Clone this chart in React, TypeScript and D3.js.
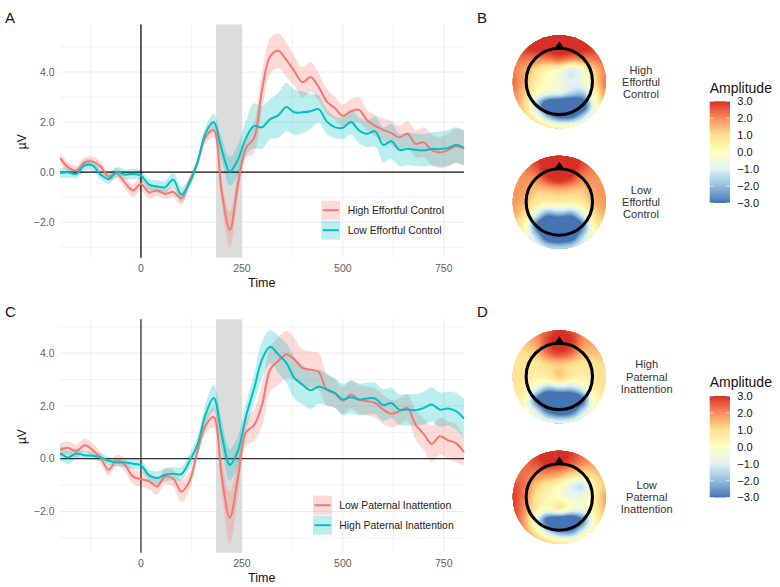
import React, { useMemo } from "react";
import * as d3 from "d3";

// ---------- ERP data (20 ms sampling) ----------
const times: number[] = d3.range(-200, 801, 20);
const xTicks = [0, 250, 500, 750];
const xMinor = [-125, 125, 375, 625];
const yTicks = [-2, 0, 2, 4];
const yMinorA = [-3, -1, 1, 3, 5];
const yMinorC = [-3, -1, 1, 3, 5];
const windowMs = [186, 250];

const highEC = [
  0.56, 0.19, 0.07, 0.38, 0.42, 0.22, -0.17, -0.05, -0.42, -0.73,
  -0.47, -0.81, -0.73, -0.87, -0.79, -1.05, -0.37, 0.36, 1.4, 1.68,
  -0.8, -2.3, -0.5, 0.96, 1.36, 3.29, 4.63, 4.85, 4.49, 4.03,
  3.59, 3.8, 3.4, 2.83, 2.56, 2.25, 2.43, 2.49, 2.07, 1.85,
  1.69, 1.56, 1.39, 1.53, 1.13, 1.19, 0.89, 0.78, 0.88, 1.03,
  0.96,
];
const highECse = [
  0.2, 0.2, 0.18, 0.2, 0.2, 0.18, 0.18, 0.2, 0.22, 0.25,
  0.28, 0.25, 0.22, 0.2, 0.22, 0.25, 0.2, 0.15, 0.25, 0.3,
  0.45, 0.72, 0.55, 0.4, 0.6, 0.75, 0.72, 0.7, 0.68, 0.6,
  0.6, 0.6, 0.55, 0.5, 0.45, 0.45, 0.5, 0.5, 0.42, 0.42,
  0.45, 0.48, 0.45, 0.5, 0.55, 0.6, 0.62, 0.62, 0.65, 0.7,
  0.7,
];
const lowEC = [
  -0.04, -0.01, -0.07, 0.27, 0.27, -0.1, -0.27, 0, -0.1, -0.07,
  -0.13, -0.5, -0.57, -0.6, -0.3, -0.9, -0.44, 0.4, 1.56, 2.0,
  0.9, 0.03, 0.49, 1.36, 1.85, 1.79, 2.12, 2.27, 2.6, 2.39,
  2.39, 2.43, 2.52, 2.03, 1.8, 1.77, 2.0, 1.67, 1.53, 1.63,
  1.09, 1.23, 0.89, 0.93, 0.89, 0.87, 0.92, 0.92, 0.96, 1.09,
  0.96,
];
const lowECse = [
  0.2, 0.2, 0.18, 0.22, 0.22, 0.18, 0.2, 0.2, 0.2, 0.2,
  0.2, 0.22, 0.25, 0.25, 0.28, 0.3, 0.2, 0.15, 0.25, 0.32,
  0.45, 0.57, 0.6, 0.7, 0.9, 0.85, 0.8, 0.9, 0.97, 0.9,
  0.83, 0.7, 0.55, 0.5, 0.43, 0.45, 0.5, 0.52, 0.52, 0.6,
  0.7, 0.7, 0.65, 0.65, 0.65, 0.65, 0.67, 0.7, 0.72, 0.7,
  0.7,
];
const lowPI = [
  0.34, 0.41, 0.28, 0.51, 0.34, 0.03, -0.42, -0.06, -0.23, -0.67,
  -0.77, -0.86, -1.05, -0.67, -0.76, -1.24, -0.86, 0.28, 1.25, 1.58,
  -0.67, -2.23, -0.73, 1.0, 1.27, 2.05, 3.38, 3.7, 3.95, 3.76,
  3.44, 3.37, 3.29, 2.62, 2.47, 2.2, 2.43, 2.24, 2.18, 2.11,
  1.86, 1.7, 1.8, 1.92, 1.29, 0.94, 0.56, 0.85, 0.7, 0.59,
  0.25,
];
const lowPIse = [
  0.25, 0.25, 0.25, 0.25, 0.25, 0.22, 0.22, 0.22, 0.25, 0.28,
  0.3, 0.3, 0.3, 0.3, 0.32, 0.42, 0.35, 0.2, 0.3, 0.4,
  0.6, 0.98, 0.75, 0.5, 0.6, 0.8, 0.85, 0.9, 0.9, 0.8,
  0.7, 0.7, 0.7, 0.6, 0.55, 0.5, 0.55, 0.55, 0.55, 0.55,
  0.55, 0.52, 0.5, 0.5, 0.55, 0.6, 0.68, 0.7, 0.7, 0.72,
  0.5,
];
const highPI = [
  0.22, 0.05, 0.2, 0.13, 0.11, 0.06, -0.08, -0.14, -0.14, -0.19,
  -0.25, -0.63, -0.73, -0.61, -0.57, -0.58, -0.1, 0.53, 1.67, 2.3,
  0.91, -0.23, 0.3, 1.6, 2.65, 3.76, 4.24, 3.95, 3.63, 3.06,
  2.81, 2.59, 2.73, 2.62, 2.49, 2.24, 2.33, 2.24, 2.28, 2.28,
  2.03, 2.11, 1.86, 1.86, 1.84, 1.92, 2.05, 1.86, 1.9, 1.8,
  1.52,
];
const highPIse = [
  0.3, 0.25, 0.2, 0.15, 0.15, 0.15, 0.15, 0.15, 0.18, 0.2,
  0.2, 0.22, 0.25, 0.25, 0.25, 0.25, 0.28, 0.3, 0.42, 0.5,
  0.55, 0.6, 0.55, 0.5, 0.55, 0.7, 0.63, 0.7, 0.75, 0.78,
  0.75, 0.7, 0.65, 0.6, 0.55, 0.6, 0.62, 0.6, 0.6, 0.6,
  0.6, 0.58, 0.58, 0.6, 0.6, 0.62, 0.65, 0.65, 0.65, 0.7,
  0.75,
];

// ---------- Topographic amplitudes (9x9 samples across each head) ----------
const topoHighEC = [
  [2.6, 3, 3.2, 3.5, 3.8, 3.5, 3.2, 3, 2.6],
  [2.4, 3, 3.5, 3.5, 3.5, 3.5, 3.5, 3, 2.6],
  [2.2, 2.4, 2.1, 2.3, 2.9, 2.5, 2.2, 2.4, 2.6],
  [2.2, 1.7, 0.9, 0, -0.2, -1.8, -0.6, 1.2, 2.2],
  [2.6, 1.6, 0.5, -0.1, -0.3, -1.0, -0.4, 0.9, 2.6],
  [2.2, 1.3, 0.1, -0.3, 0, -1, -1.8, 0.3, 2.2],
  [2, 1.3, -2, -5, -6, -6, -5, -0.4, 1.6],
  [1.8, 1.3, 0.3, -2, -3.5, -3.5, -1.5, 0.4, 1.2],
  [1.6, 1.5, 1.4, 1.2, 1, 1, 1.2, 1.3, 1.4],
];
const topoLowEC = [
  [2.4, 2.6, 3, 3.5, 3.5, 3.5, 3, 2.6, 2.4],
  [2, 2.2, 2.6, 3.5, 3.5, 3.5, 2.6, 2.2, 2],
  [2, 2, 1.9, 3, 3.5, 3, 1.9, 2, 2],
  [2, 1.9, 1.2, 1.2, 1.4, 1.2, 1.2, 1.9, 2],
  [2, 1.6, 0.8, 0.7, 0.8, 0.7, 0.8, 1.6, 2],
  [1.8, 1.1, -0.6, -2.6, -1.6, -2.6, -0.6, 1.1, 1.8],
  [1.2, 0.6, -3.5, -6, -6, -6, -3.5, 0.6, 1.2],
  [0.5, 0.2, -1.2, -4, -4.5, -4, -1.2, 0.2, 0.5],
  [0.2, 0.1, -0.2, -0.8, -1, -0.8, -0.2, 0.1, 0.2],
];
const topoHighPI = [
  [1.6, 1.8, 2, 2.5, 3, 2.8, 2, 1.8, 1.6],
  [1.2, 1.4, 1.8, 3, 3.6, 3.2, 2, 1.8, 1.6],
  [0.9, 1, 1.2, 2.6, 3, 2.6, 1.3, 1.4, 1.4],
  [0.9, 0.8, 0.7, 0.8, 1, 0.8, 0.7, 0.9, 1.1],
  [1, 0.8, 0.6, 0.9, 1.9, 0.9, 0.6, 0.8, 1],
  [0.9, 0.7, -0.5, -2, -1.2, -1.6, -0.5, 0.7, 0.9],
  [0.7, 0.5, -3.5, -6, -6, -6, -4, 0.3, 0.6],
  [0.6, 0.4, -0.6, -3, -4, -3.5, -1, 0.3, 0.5],
  [0.5, 0.4, 0.3, 0, -0.2, -0.1, 0.2, 0.3, 0.4],
];
const topoLowPI = [
  [2, 2.3, 2.8, 3.5, 3.8, 3, 2.4, 2, 2],
  [2, 2.4, 2.8, 3.3, 3.2, 2.8, 2.2, 1.9, 1.8],
  [2.4, 2.4, 2, 2, 1.8, 1.2, 0.9, 1.2, 1.6],
  [2.8, 2.4, 1.2, 0.6, 0.1, -1.2, -2, 0.5, 1.4],
  [3, 2.2, 0.8, 0.2, -0.3, -0.6, -0.5, 0.5, 2],
  [3, 2, 0.6, 0.2, 2, 0.3, -0.2, 0.4, 1.8],
  [3, 1.8, -1, -4.5, -5.5, -5.5, -3.5, 0.2, 1.5],
  [3, 2, 0.8, -1.2, -2.5, -2.8, -0.6, 0.6, 1.4],
  [2.5, 2.4, 2, 1.6, 1.2, 1.2, 1.4, 1.6, 1.8],
];

const ampTicks = [3, 2, 1, 0, -1, -2, -3];
const ampColors = ["#d73027", "#fc8d59", "#fee090", "#ffffbf", "#e0f3f8", "#91bfdb", "#4575b4"];
const ampLevels = d3.range(-3, 3.001, 0.1);

const RED = "#F8766D";
const TEAL = "#00BFC4";
const FONT = "'Liberation Sans', Arial, sans-serif";
const fmt = (v: number) => (v < 0 ? "\u2212" : "") + Math.abs(v).toFixed(1);

const ampColor = d3.scaleLinear<string>().domain(ampTicks).range(ampColors).clamp(true);

function ErpPanel({ yDomain, yRange, yMinor, series, legend, legendX, legendTextX, zeroColor }: any) {
  const x = d3.scaleLinear().domain([-200, 800]).range([60.2, 464]);
  const y = d3.scaleLinear().domain(yDomain).range(yRange);
  const top = yRange[0];
  const bottom = yRange[1];
  const line = d3.line<number>().x((_, i) => x(times[i])).y((d) => y(d)).curve(d3.curveCatmullRom.alpha(0.5));
  const band = (s: any) =>
    d3.area<number>().x((_, i) => x(times[i])).y0((d, i) => y(d - s.se[i])).y1((d, i) => y(d + s.se[i])).curve(d3.curveCatmullRom.alpha(0.5))(s.values) as string;
  const grid = "#ebebeb";
  return (
    <g fontFamily={FONT}>
      {xMinor.map((t) => <line key={t} x1={x(t)} x2={x(t)} y1={top} y2={bottom} stroke={grid} strokeWidth={0.7} />)}
      {xTicks.map((t) => <line key={t} x1={x(t)} x2={x(t)} y1={top} y2={bottom} stroke={grid} strokeWidth={1} />)}
      {yMinor.map((t: number) => <line key={t} x1={60.2} x2={464} y1={y(t)} y2={y(t)} stroke={grid} strokeWidth={0.7} />)}
      {yTicks.map((t) => <line key={t} x1={60.2} x2={464} y1={y(t)} y2={y(t)} stroke={grid} strokeWidth={1} />)}
      <rect x={x(windowMs[0])} width={x(windowMs[1]) - x(windowMs[0])} y={top} height={bottom - top} fill="#dcdcdc" />
      {series.map((s: any) => <path key={s.name + "b"} d={band(s)} fill={s.color} fillOpacity={0.27} />)}
      <line x1={60.2} x2={464} y1={y(0)} y2={y(0)} stroke={zeroColor} strokeWidth={1.3} />
      <line x1={x(0)} x2={x(0)} y1={top} y2={bottom} stroke={zeroColor} strokeWidth={1.3} />
      {series.map((s: any) => <path key={s.name} d={line(s.values) as string} fill="none" stroke={s.color} strokeWidth={2} />)}
      {yTicks.map((t) => (
        <text key={t} x={54.5} y={y(t)} dy="0.36em" textAnchor="end" fontSize={10.5} fill="#5f5f5f">{fmt(t)}</text>
      ))}
      {xTicks.map((t) => (
        <text key={t} x={x(t)} y={bottom + 11} dy="0.36em" textAnchor="middle" fontSize={10.5} fill="#5f5f5f">{t}</text>
      ))}
      <text x={261.7} y={bottom + 25} dy="0.36em" textAnchor="middle" fontSize={12.5} fill="#111">Time</text>
      <text transform={`translate(21.7,${(top + bottom) / 2 + 0.6}) rotate(-90)`} dy="0.36em" textAnchor="middle" fontSize={12} fill="#111">{"\u00b5V"}</text>
      {legend.map((s: any, i: number) => {
        const ky = bottom - 57 + i * 20;
        return (
          <g key={s.name}>
            <rect x={legendX} y={ky} width={19} height={19} fill={s.color} fillOpacity={0.27} />
            <line x1={legendX + 1.5} x2={legendX + 17.5} y1={ky + 9.5} y2={ky + 9.5} stroke={s.color} strokeWidth={2} />
            <text x={legendTextX} y={ky + 9.5} dy="0.36em" fontSize={10.4} fill="#222">{s.name}</text>
          </g>
        );
      })}
    </g>
  );
}

function Topo({ id, cx, cy, matrix }: { id: string; cx: number; cy: number; matrix: number[][] }) {
  const R = 46.5;
  const paths = useMemo(() => {
    const n = 90;
    const cells: { u: number; v: number; a: number }[] = [];
    matrix.forEach((row, j) => row.forEach((a, i) => cells.push({ u: -1 + i * 0.25, v: -1 + j * 0.25, a })));
    const field = new Array(n * n);
    const s2 = 2 * 0.13 * 0.13;
    for (let gy = 0; gy < n; gy++) {
      for (let gx = 0; gx < n; gx++) {
        const u = -1 + (2 * gx) / (n - 1);
        const v = -1 + (2 * gy) / (n - 1);
        let sw = 0;
        let sv = 0;
        for (const c of cells) {
          const w = Math.exp(-((u - c.u) ** 2 + (v - c.v) ** 2) / s2);
          sw += w;
          sv += w * c.a;
        }
        field[gy * n + gx] = sv / sw;
      }
    }
    const contours = d3.contours().size([n, n]).thresholds(ampLevels)(field);
    const k = (2 * R) / (n - 1);
    const geo = d3.geoPath(d3.geoIdentity().scale(k).translate([cx - R - k * 0.5, cy - R - k * 0.5]) as any);
    return contours.map((c) => ({ v: c.value, d: geo(c as any) as string }));
  }, [matrix, cx, cy]);
  const ringR = 33.2;
  const ringY = cy - 0.3;
  const noseTop = ringY - ringR - 7;
  return (
    <g>
      <clipPath id={id}><circle cx={cx} cy={cy} r={R} /></clipPath>
      <g clipPath={`url(#${id})`}>
        <rect x={cx - R} y={cy - R} width={2 * R} height={2 * R} fill={ampColor(-3)} />
        {paths.map((p) => <path key={p.v} d={p.d} fill={ampColor(p.v)} stroke={ampColor(p.v)} strokeWidth={0.3} />)}
      </g>
      <path d={`M${cx} ${noseTop} L${cx + 5.5} ${ringY - ringR + 1} L${cx - 5.5} ${ringY - ringR + 1} Z`} fill="#000" />
      <circle cx={cx} cy={ringY} r={ringR} fill="none" stroke="#000" strokeWidth={3.1} />
    </g>
  );
}

function ColorBar({ id, top, bottom }: { id: string; top: number; bottom: number }) {
  const y = d3.scaleLinear().domain([3, -3]).range([top, bottom]);
  const xL = 709.7;
  const xR = 730;
  return (
    <g fontFamily={FONT}>
      <linearGradient id={id} x1="0" x2="0" y1="0" y2="1">
        {ampTicks.map((t, i) => <stop key={t} offset={(3 - t) / 6} stopColor={ampColors[i]} />)}
      </linearGradient>
      <text x={xL} y={top - 13.8} dy="0.36em" fontSize={14} fill="#111">Amplitude</text>
      <rect x={xL} y={top} width={xR - xL} height={bottom - top} fill={`url(#${id})`} />
      {ampTicks.map((t) => (
        <g key={t}>
          <line x1={xL} x2={xL + 4} y1={y(t)} y2={y(t)} stroke="#fff" strokeWidth={0.6} />
          <line x1={xR - 4} x2={xR} y1={y(t)} y2={y(t)} stroke="#fff" strokeWidth={0.6} />
          <text x={737.3} y={y(t)} dy="0.36em" fontSize={11} fill="#111">{fmt(t)}</text>
        </g>
      ))}
    </g>
  );
}

function Lines({ x, ys, lines }: { x: number; ys: number[]; lines: string[] }) {
  return (
    <g fontFamily={FONT} fontSize={11.1} fill="#333" textAnchor="middle">
      {lines.map((l, i) => <text key={l} x={x} y={ys[i]} dy="0.36em">{l}</text>)}
    </g>
  );
}

export default function App() {
  const seriesA = [
    { name: "High Effortful Control", color: RED, values: highEC, se: highECse },
    { name: "Low Effortful Control", color: TEAL, values: lowEC, se: lowECse },
  ];
  const seriesC = [
    { name: "Low Paternal Inattention", color: RED, values: lowPI, se: lowPIse },
    { name: "High Paternal Inattention", color: TEAL, values: highPI, se: highPIse },
  ];
  const panelLetters = [
    { t: "A", x: 5, y: 17.7 },
    { t: "B", x: 477, y: 17.7 },
    { t: "C", x: 5, y: 311.7 },
    { t: "D", x: 477, y: 311.7 },
  ];
  return (
    <svg width={780} height={587} style={{ position: "absolute", left: 0, top: 0, background: "#fff" }}>
      <ErpPanel yDomain={[5.9, -3.42]} yRange={[24.5, 257.7]} yMinor={yMinorA} series={seriesA} legend={seriesA} legendX={321.3} legendTextX={347.7} zeroColor="#111" />
      <ErpPanel yDomain={[5.28, -3.56]} yRange={[319.3, 552.7]} yMinor={yMinorC} series={seriesC} legend={seriesC} legendX={313} legendTextX={339.3} zeroColor="#333" />
      {panelLetters.map((p) => (
        <text key={p.t} x={p.x} y={p.y} dy="0.36em" fontFamily={FONT} fontSize={15} fill="#111">{p.t}</text>
      ))}
      <Topo id="t1" cx={559.3} cy={81.7} matrix={topoHighEC} />
      <Topo id="t2" cx={559.3} cy={202.3} matrix={topoLowEC} />
      <Topo id="t3" cx={559.3} cy={376.7} matrix={topoHighPI} />
      <Topo id="t4" cx={559.3} cy={497.3} matrix={topoLowPI} />
      <Lines x={641} ys={[69.7, 82, 94.3]} lines={["High", "Effortful", "Control"]} />
      <Lines x={641} ys={[189.7, 202, 214.3]} lines={["Low", "Effortful", "Control"]} />
      <Lines x={646.7} ys={[364.3, 377, 389]} lines={["High", "Paternal", "Inattention"]} />
      <Lines x={646.7} ys={[485, 497, 509]} lines={["Low", "Paternal", "Inattention"]} />
      <ColorBar id="cb1" top={101.3} bottom={203} />
      <ColorBar id="cb2" top={396} bottom={497.5} />
    </svg>
  );
}
